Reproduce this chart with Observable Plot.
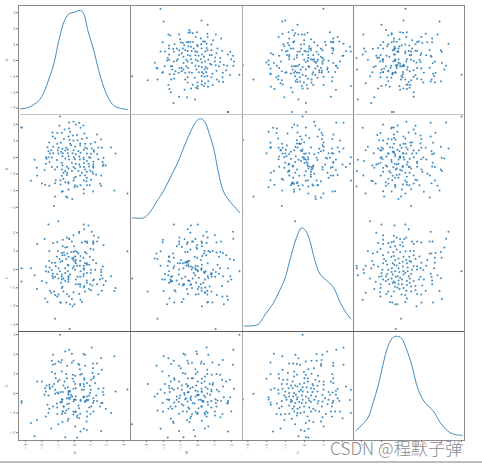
<!DOCTYPE html>
<html><head><meta charset="utf-8">
<script src="https://cdn.jsdelivr.net/npm/d3@7"></script>
<script src="https://cdn.jsdelivr.net/npm/@observablehq/plot@0.6"></script>
<style>
html,body{margin:0;padding:0;background:#fff;overflow:hidden}
#page{position:relative;width:482px;height:464px;overflow:hidden;background:#fff}
#wm{position:absolute;left:330px;top:435px;font:300 17px "Noto Sans CJK SC","Noto Sans",sans-serif;color:#8a8a8a;white-space:nowrap;letter-spacing:.15px;text-shadow:0 0 1px #fff}
#rule{position:absolute;left:0;top:461px;width:482px;height:2px;background:#bdbdbd}
</style></head><body>
<div id="page"><div id="rule"></div></div>
<script>
const names = ["A","B","C","D"];
const valuesA = [-3.25,-.99,3.25,-.9,-.3,
-.33,-.06,.08,.29,.55,.37,-.92,-.33,-.61,-1.35,-1.06,-.78,-.27,.16,.61,1.39,-.1,-1.19,-.65,-1.33,-.37,.18,.45,.76,1.64,-1.55,-1.06,-.84,-.27,-.06,.35,.65,1.0,1.27,-1.66,-1.31,-.98,-.74,-.51,-.2,.04,.35,.65,1.06,1.47,2.25,1.68,-1.6,-1.43,-1.02,-.82,-.57,-.41,-.06,.24,.57,.78,1.19,1.19,2.52,-1.51,-1.31,-.98,-.72,-.41,-.12,.08,.37,.76,1.02,1.39,-1.76,-1.6,-1.39,-.74,-.37,-.04,.29,.55,.9,.98,1.47,1.78,-2.45,-1.72,-1.08,-.57,-.33,.04,.33,.57,.76,1.16,1.72,-1.76,-1.53,-.78,-.16,.08,.29,.59,.86,1.16,1.78,1.92,-1.39,-1.06,-.74,-.47,-.06,.35,.59,.9,1.14,1.74,-2.31,-1.19,-.78,-.37,.04,.24,.65,.96,1.16,1.1,-1.84,-.57,-.68,-.45,-.16,.45,.76,1.14,1.33,1.64,-2.29,-.78,-.47,.08,.35,.65,.76,-2.68,-1.15,-.86,-.68,-.57,-.37,-.06,.57,.74,1.02,-.02,-2.0,-1.8,-1.55,-1.19,-.86,-.37,.04,.37,.76,.94,1.57,1.64,-.37,-.72,-.78,0,.16,.57,1.14,2.45,-1.19,-.51,-.45,-.14,.57,-1.25];
const valuesB = [1.8,-3.84,-2.17,2.47,1.07,
2.11,2.15,1.99,2.09,1.93,1.79,1.91,1.75,1.69,1.51,1.47,1.49,1.55,1.35,1.45,1.39,1.33,1.14,1.12,1.26,1.26,1.04,1.12,1.18,1.08,.9,.82,.88,.82,1.02,.84,.82,.82,.92,.62,.64,.58,.52,.58,.74,.64,.72,.6,.54,.6,.6,.58,.38,.44,.42,.34,.42,.48,.44,.38,.46,.54,.44,.34,.24,.24,.26,.24,.26,.26,.26,.2,.28,.24,.22,.2,.02,.02,0,.08,.08,.02,.06,-.02,.02,-.02,-.1,-.02,-.14,-.08,-.16,-.06,-.12,-.1,-.12,-.12,-.22,-.26,-.28,-.38,-.28,-.32,-.32,-.38,-.42,-.34,-.38,-.42,-.42,-.48,-.58,-.58,-.48,-.56,-.58,-.56,-.58,-.54,-.54,-.52,-.62,-.72,-.72,-.66,-.66,-.82,-.72,-.78,-.62,-.86,-.76,-.82,-.92,-.92,-.82,-.92,-.86,-.98,-1.02,-1.08,-1.08,-1.1,-1.06,-1.16,-1.08,-1.08,-1.22,-1.41,-1.37,-1.37,-1.29,-1.49,-1.49,-1.39,-1.39,-1.43,-1.35,-1.22,-1.57,-1.65,-1.71,-1.55,-1.63,-1.57,-1.67,-1.67,-1.67,-1.67,-1.59,-1.71,-1.93,-2.03,-2.07,-1.79,-1.75,-1.91,-2.05,-1.99,-2.35,-2.35,-2.41,-2.51,-2.17,-2.93];
const valuesC = [-.66,-.5,1,-.1,-3.26,
1.68,2.06,1.2,-1.62,-1.18,-.48,.64,.95,-.32,-1.8,-.81,-.6,-.4,-.23,.07,.37,.64,.9,.87,1.52,1.52,2.06,-1.16,.2,.51,.87,-1.8,-1.37,-.88,-.55,-.4,-.03,.37,.71,1.47,-2.01,-1.34,-1.13,-.9,-.55,0,.18,.57,1.01,1.52,1.39,-1.2,-.93,-.72,-.49,-.25,-.02,.18,.42,.69,1.01,1.52,2.19,-1.59,-1.39,-1.16,-.85,-.63,-.37,-.1,.11,.34,.51,1.75,1.66,-1.78,-2.7,-1.37,-1.07,-.81,-.55,-.28,-.1,.16,.42,.69,1.27,1.48,2.45,-1.9,-.99,-.81,-.6,-.37,-.14,.07,.34,.6,.95,1.34,1.66,-1.9,-1.2,-.95,-.4,-.1,.25,.51,.95,1.27,1.52,1.84,2.4,-1.8,-1.46,-.72,-.49,-.28,.07,.34,.69,1.22,1.48,-1.78,-1.34,-.81,-.55,-.25,-.02,.25,.46,.92,1.45,-.63,-.37,-1.48,-1.25,-1.02,-.81,-.55,-.37,-.02,.34,.57,.78,1.13,1.39,1.62,1.87,2.45,-1.07,-.67,-.4,.25,.46,.87,.95,1.45,2.01,.07,-1.66,-1.27,-.19,0,.2,1.01,-.32,.07,.2,-.19,-.46,.21,-.72,-.14,.74,.46,-.63,.07,-1.02,1.09,-1.2,.78,-.2,.16,1.75];
const valuesD = [-.39,-1.57,.2,3.0,-.29,
2.23,2.35,2.14,2.02,1.9,1.97,2.01,1.97,1.8,1.58,1.53,1.53,1.5,1.46,1.63,1.67,1.67,1.7,1.5,1.56,1.41,1.46,1.21,1.24,1.29,1.41,.99,.99,1.04,1.12,.95,1.09,1.0,.9,.99,.75,.78,.7,.7,.87,.78,.78,.7,.61,.78,.61,.48,.48,.41,.41,.48,.53,.61,.48,.39,.44,.53,.36,.27,.19,.24,.27,.27,.36,.31,.31,.27,.24,.24,.14,.19,-.02,0,-.1,.02,.02,.1,.1,.07,.07,.1,.07,.05,.19,-.2,-.2,-.15,-.15,-.19,-.1,-.15,-.1,-.15,-.07,-.07,-.07,-.31,-.38,-.32,-.29,-.32,-.36,-.32,-.41,-.32,-.38,-.38,-.34,-.46,-.51,-.44,-.49,-.44,-.48,-.44,-.51,-.55,-.49,-.58,-.75,-.61,-.66,-.72,-.66,-.72,-.78,-.66,-.66,-.78,-.78,-1.05,-1.07,-1.05,-1.04,-.92,-1.0,-.95,-.92,-.87,-.92,-1.05,-.92,-.92,-.92,-1.0,-1.36,-1.29,-1.12,-1.39,-1.46,-1.43,-1.21,-1.17,-1.26,-1.51,-1.94,-1.79,-1.87,-1.91,-1.8,-1.68,-2.18,-2.23,-2.25,.19,-.07,-.24,-.32,-.49,-.38,.41,.61,.95,.1,-.24,-.66,.61,-1.0,-1.17,-.24];

const kdeA = {x:[-3.31,-2.9,-2.5,-2.19,-1.88,-1.57,-1.27,-.96,-.65,-.35,-.04,.37,.57,.82,1.19,1.49,1.8,2.11,2.41,2.82,3.27],
              y:[.003,.007,.02,.036,.07,.124,.184,.279,.353,.386,.392,.4,.386,.319,.238,.157,.09,.043,.016,.005,0]};
const kdeB = {x:[-3.84,-3.16,-2.86,-2.37,-1.98,-1.59,-1.19,-.8,-.51,-.22,-.02,.18,.41,.67,.96,1.25,1.55,1.94,2.24,2.49],
              y:[.003,.003,.02,.072,.113,.167,.221,.288,.335,.376,.396,.403,.393,.348,.281,.18,.106,.066,.043,.023]};
const kdeC = {x:[-3.19,-2.8,-2.45,-2.1,-1.66,-1.31,-1.04,-.78,-.51,-.33,-.16,.05,.28,.55,.81,1.16,1.52,1.87,2.22,2.45],
              y:[.003,.003,.009,.047,.094,.148,.195,.269,.343,.38,.402,.392,.35,.269,.215,.188,.161,.101,.054,.031]};
const kdeD = {x:[-2.28,-2,-1.67,-1.42,-1.17,-.92,-.67,-.42,-.25,0,.25,.5,.83,1.17,1.58,2,2.42,2.75,3.05],
              y:[.019,.041,.073,.133,.2,.288,.362,.396,.401,.392,.348,.288,.187,.133,.1,.045,.012,.003,.001]};
const kdes = [kdeA,kdeB,kdeC,kdeD];

const colDomains = [[-3.44,3.44],[-3.94,2.65],[-3.28,2.59],[-2.4,3.15]];
const rowDomains = [[-3.40,3.46],[-3.98,2.59],[-3.39,2.51],[-2.40,3.16]];
const ticks = [[-3,-2,-1,0,1,2,3],[-3,-2,-1,0,1,2],[-3,-2,-1,0,1,2],[-2,-1,0,1,2,3]];
const densityDomain = [-0.02,0.42];

const colEdges = [18,130,242,353,464];
const rowEdges = [5,114,223,331,440];
const leftStroke = ["#8a8a8a","#8a8a8a","#a8a8a8","#8a8a8a"];
const topStroke = ["#8a8a8a","#c4c4c4",null,"#5c5c5c"];
const inkColor = "#777";
const blue = "#1f77b4";

// The two halves of each record are read from the A/B and C/D panels; the
// first five records are the outliers that can be traced across every panel.
const len = Math.max(valuesA.length, valuesC.length);
const fixed = 5;
const table = d3.range(len).map(i => {
  const j = i < fixed ? i : fixed + ((i - fixed) * 67) % (valuesC.length - fixed);
  const k = i % valuesA.length;
  return [valuesA[k], valuesB[k], valuesC[j], valuesD[j]];
});

const page = document.getElementById("page");

function axisMarks(r, c) {
  const marks = [];
  if (c === 0) marks.push(Plot.axisY({
    ticks: ticks[r], tickFormat: d3.format("d"), tickSize: 2, tickPadding: 1, color: inkColor,
    label: names[r], labelAnchor: "center", labelArrow: "none", labelOffset: 13, textAnchor: "end"
  }));
  if (r === 3) marks.push(Plot.axisX({
    ticks: ticks[c], tickFormat: d3.format("d"), tickSize: 2, tickPadding: 1, color: inkColor,
    tickRotate: -90, label: names[c], labelAnchor: "center", labelArrow: "none", labelOffset: 13
  }));
  return marks;
}

function place(svg, left, top) {
  svg.style.position = "absolute";
  svg.style.left = left + "px";
  svg.style.top = top + "px";
  page.appendChild(svg);
}

const panelStyle = {overflow: "visible", background: "transparent", fontSize: "4px", fontFamily: "DejaVu Sans"};

for (let r = 0; r < 4; r++) for (let c = 0; c < 4; c++) {
  const ml = c === 0 ? 18 : 0, mb = r === 3 ? 24 : 0;
  const w = colEdges[c+1] - colEdges[c] + ml, h = rowEdges[r+1] - rowEdges[r] + mb;
  const diag = r === c;
  const marks = [];
  if (diag) {
    marks.push(Plot.line(kdes[c].x.map((x,i) => [x, kdes[c].y[i]]), {
      x: d => d[0], y: d => d[1], stroke: blue, strokeWidth: 1, strokeOpacity: .85, curve: "catmull-rom"
    }));
  } else {
    marks.push(Plot.dot(table, {
      x: d => d[c], y: d => d[r], r: 1, fill: blue, fillOpacity: .85, stroke: "none"
    }));
  }
  marks.push(Plot.frame({anchor: "left", stroke: leftStroke[c]}));
  if (topStroke[r]) marks.push(Plot.frame({anchor: "top", stroke: topStroke[r]}));
  if (c === 3) marks.push(Plot.frame({anchor: "right", stroke: "#8a8a8a"}));
  if (r === 3) marks.push(Plot.frame({anchor: "bottom", stroke: "#8a8a8a"}));
  const useAxisHere = !(r === 0 && c === 0);
  if (useAxisHere) marks.push(...axisMarks(r, c));
  const svg = Plot.plot({
    width: w, height: h,
    marginLeft: ml, marginRight: 0, marginTop: 0, marginBottom: mb,
    x: {domain: colDomains[c], axis: null},
    y: {domain: diag ? densityDomain : rowDomains[r], axis: null},
    style: panelStyle,
    marks
  });
  place(svg, colEdges[c] - ml, rowEdges[r]);
  if (!useAxisHere) {
    const overlay = Plot.plot({
      width: w, height: h,
      marginLeft: ml, marginRight: 0, marginTop: 0, marginBottom: mb,
      x: {domain: colDomains[c], axis: null},
      y: {domain: rowDomains[r], axis: null},
      style: panelStyle,
      marks: axisMarks(r, c)
    });
    place(overlay, colEdges[c] - ml, rowEdges[r]);
  }
}

const wm = document.createElement("div");
wm.id = "wm";
wm.textContent = "CSDN @程默子弹";
page.appendChild(wm);
</script>
</body></html>
